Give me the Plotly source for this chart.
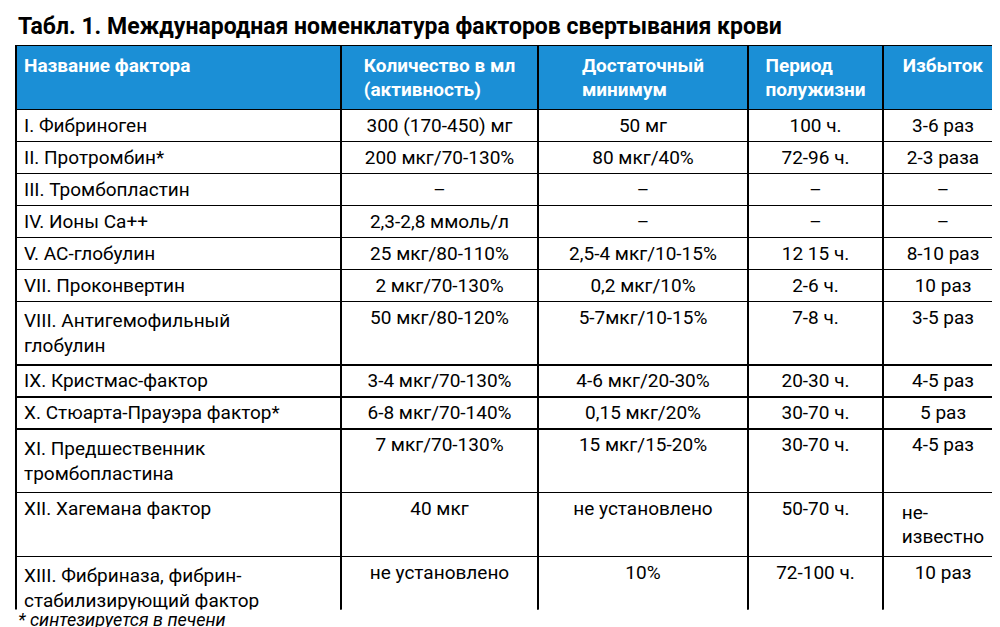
import plotly.graph_objects as go

title = "<b>Табл. 1. Международная номенклатура факторов свертывания крови</b>"
headers = ["<b>Название фактора</b>", "<b>Количество в мл<br>(активность)</b>",
           "<b>Достаточный<br>минимум</b>", "<b>Период<br>полужизни</b>", "<b>Избыток</b>"]
factors = ["I. Фибриноген", "II. Протромбин*", "III. Тромбопластин", "IV. Ионы Са++",
           "V. АС-глобулин", "VII. Проконвертин", "VIII. Антигемофильный<br>глобулин",
           "IX. Кристмас-фактор", "X. Стюарта-Прауэра фактор*", "XI. Предшественник<br>тромбопластина",
           "XII. Хагемана фактор", "XIII. Фибриназа, фибрин-<br>стабилизирующий фактор"]
amount = ["300 (170-450) мг", "200 мкг/70-130%", "–", "2,3-2,8 ммоль/л", "25 мкг/80-110%",
          "2 мкг/70-130%", "50 мкг/80-120%", "3-4 мкг/70-130%", "6-8 мкг/70-140%",
          "7 мкг/70-130%", "40 мкг", "не установлено"]
minimum = ["50 мг", "80 мкг/40%", "–", "–", "2,5-4 мкг/10-15%", "0,2 мкг/10%",
           "5-7мкг/10-15%", "4-6 мкг/20-30%", "0,15 мкг/20%", "15 мкг/15-20%",
           "не установлено", "10%"]
halflife = ["100 ч.", "72-96 ч.", "–", "–", "12 15 ч.", "2-6 ч.", "7-8 ч.", "20-30 ч.",
            "30-70 ч.", "30-70 ч.", "50-70 ч.", "72-100 ч."]
excess = ["3-6 раз", "2-3 раза", "–", "–", "8-10 раз", "10 раз", "3-5 раз", "4-5 раз",
          "5 раз", "4-5 раз", "не-<br>известно", "10 раз"]
footnote = "<i>* синтезируется в печени</i>"

fig = go.Figure(go.Table(
    domain=dict(x=[0.008, 0.995], y=[0.04, 0.94]),
    columnwidth=[325, 197, 210, 135, 120],
    header=dict(values=headers, fill_color="#1b8fd6", line=dict(color="black", width=1.5),
                font=dict(color="white", size=19, family="Roboto"),
                align=["left", "center", "center", "center", "center"], height=58),
    cells=dict(values=[factors, amount, minimum, halflife, excess], fill_color="white",
               line=dict(color="black", width=1.5),
               font=dict(color="black", size=19, family="Roboto"),
               align=["left", "center", "center", "center", "center"], height=32),
))
fig.update_layout(
    width=1000, height=627, margin=dict(l=0, r=0, t=0, b=0), paper_bgcolor="white",
    annotations=[
        dict(text=title, x=0.008, y=1 - 18/627, xref="paper", yref="paper", xanchor="left",
             yanchor="middle", showarrow=False, font=dict(size=23, family="Roboto", color="black")),
        dict(text=footnote, x=0.008, y=1 - 611/627, xref="paper", yref="paper", xanchor="left",
             yanchor="middle", showarrow=False, font=dict(size=18, family="Roboto", color="black")),
    ])
fig.write_html("out.html")
